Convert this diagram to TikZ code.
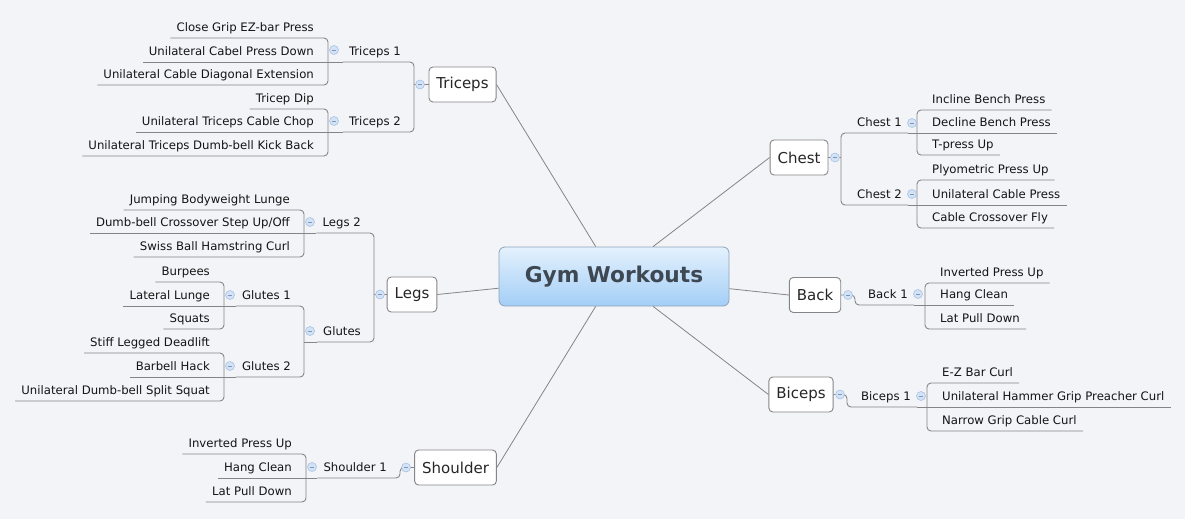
\documentclass[tikz,border=0pt]{standalone}
\usepackage{fontspec}
\setmainfont{DejaVu Sans}
\definecolor{bg}{HTML}{F3F4F8}
\definecolor{ln}{HTML}{858585}
\definecolor{tx}{HTML}{141414}
\definecolor{togf}{HTML}{D3E2F5}
\definecolor{togd}{HTML}{9FBCE2}
\definecolor{ctop}{HTML}{E4F1FD}
\definecolor{cbot}{HTML}{A3CEF6}
\definecolor{cbor}{HTML}{8EA3B8}
\definecolor{ctx}{HTML}{3D4852}
\begin{document}
\begin{tikzpicture}[x=1pt,y=-1pt,
  conn/.style={draw=ln, line width=0.9pt, rounded corners=4pt},
  spoke/.style={draw=ln, line width=0.8pt},
  leaf/.style={font=\fontsize{11.7}{14}\selectfont, text=tx, inner xsep=6pt, inner ysep=0pt, text height=9pt, text depth=6.5pt},
  lleaf/.style={leaf, anchor=south east},
  rleaf/.style={leaf, anchor=south west},
  maintopic/.style={draw=ln, line width=0.9pt, fill=white, rounded corners=4pt, font=\fontsize{15}{18}\selectfont, text=black!85, inner xsep=7.5pt, inner ysep=0pt, minimum height=35pt},
  tog/.style={circle, minimum size=9pt, inner sep=0pt, fill=togf, draw=togd, line width=0.5pt,
    path picture={\draw[togd!80!black, line width=0.7pt] ([xshift=-2.2pt]path picture bounding box.center) -- ([xshift=2.2pt]path picture bounding box.center);}},
]
\fill[bg] (0,0) rectangle (1185,519);
\useasboundingbox (0,0) rectangle (1185,519);

% central topic
\node[draw=cbor, line width=0.8pt, top color=ctop, bottom color=cbot, rounded corners=6pt,
      minimum width=230pt, minimum height=59pt, inner sep=0pt,
      font=\fontsize{21.7}{26}\selectfont\bfseries, text=ctx] (gym) at (614,276.5) {Gym Workouts};

% main topics
\node[maintopic] (tri) at (462.5,84.5) {Triceps};
\node[maintopic] (legs) at (412,294.5) {Legs};
\node[maintopic] (sho) at (455.5,467.5) {Shoulder};
\node[maintopic] (chest) at (799,157.5) {Chest};
\node[maintopic] (back) at (815,295) {Back};
\node[maintopic] (bic) at (801,394.5) {Biceps};

% subtopics (left)
\node[lleaf] (t1) at (407,62) {Triceps 1};
\node[lleaf] (t2) at (407,132) {Triceps 2};
\node[lleaf] (l2) at (367,233) {Legs 2};
\node[lleaf] (gl) at (367,342) {Glutes};
\node[lleaf] (g1) at (297,306) {Glutes 1};
\node[lleaf] (g2) at (297,377) {Glutes 2};
\node[lleaf] (s1) at (393,478) {Shoulder 1};
% subtopics (right)
\node[rleaf] (c1) at (851,133) {Chest 1};
\node[rleaf] (c2) at (851,205) {Chest 2};
\node[rleaf] (b1) at (862,305) {Back 1};
\node[rleaf] (i1) at (855,407) {Biceps 1};

% leaves (left)
\node[lleaf] (t1a) at (320,38) {Close Grip EZ-bar Press};
\node[lleaf] (t1b) at (320,62) {Unilateral Cabel Press Down};
\node[lleaf] (t1c) at (320,85) {Unilateral Cable Diagonal Extension};
\node[lleaf] (t2a) at (320,109) {Tricep Dip};
\node[lleaf] (t2b) at (320,132) {Unilateral Triceps Cable Chop};
\node[lleaf] (t2c) at (320,156) {Unilateral Triceps Dumb-bell Kick Back};
\node[lleaf] (l2a) at (296,210) {Jumping Bodyweight Lunge};
\node[lleaf] (l2b) at (296,233) {Dumb-bell Crossover Step Up/Off};
\node[lleaf] (l2c) at (296,257) {Swiss Ball Hamstring Curl};
\node[lleaf] (g1a) at (216,282) {Burpees};
\node[lleaf] (g1b) at (216,306) {Lateral Lunge};
\node[lleaf] (g1c) at (216,329) {Squats};
\node[lleaf] (g2a) at (216,353) {Stiff Legged Deadlift};
\node[lleaf] (g2b) at (216,377) {Barbell Hack};
\node[lleaf] (g2c) at (216,401) {Unilateral Dumb-bell Split Squat};
\node[lleaf] (s1a) at (298,454) {Inverted Press Up};
\node[lleaf] (s1b) at (298,478) {Hang Clean};
\node[lleaf] (s1c) at (298,502) {Lat Pull Down};
% leaves (right)
\node[rleaf] (c1a) at (926,110) {Incline Bench Press};
\node[rleaf] (c1b) at (926,133) {Decline Bench Press};
\node[rleaf] (c1c) at (926,155) {T-press Up};
\node[rleaf] (c2a) at (926,180) {Plyometric Press Up};
\node[rleaf] (c2b) at (926,205) {Unilateral Cable Press};
\node[rleaf] (c2c) at (926,228) {Cable Crossover Fly};
\node[rleaf] (b1a) at (934,283) {Inverted Press Up};
\node[rleaf] (b1b) at (934,305) {Hang Clean};
\node[rleaf] (b1c) at (934,329) {Lat Pull Down};
\node[rleaf] (i1a) at (936,383) {E-Z Bar Curl};
\node[rleaf] (i1b) at (936,407) {Unilateral Hammer Grip Preacher Curl};
\node[rleaf] (i1c) at (936,431) {Narrow Grip Cable Curl};

% spokes from the central topic
\draw[spoke] (gym) -- (tri.east);
\draw[spoke] (gym) -- (legs.east);
\draw[spoke] (gym) -- (sho.east);
\draw[spoke] (gym) -- (chest.west);
\draw[spoke] (gym) -- (back.west);
\draw[spoke] (gym) -- (bic.west);

% Triceps
\draw[conn] (tri.west) -- (414,84.5);
\draw[conn] (t1.south west) -| (414,84.5) |- (t2.south west);
\draw[conn] (t1a.south west) -| (328,62) |- (t1c.south west);
\draw[conn] (t1b.south west) -- (t1.south west);
\draw[conn] (t2a.south west) -| (328,132) |- (t2c.south west);
\draw[conn] (t2b.south west) -- (t2.south west);
% Legs
\draw[conn] (legs.west) -- (374,294.5);
\draw[conn] (l2.south west) -| (374,294.5) |- (gl.south west);
\draw[conn] (l2a.south west) -| (304,233) |- (l2c.south west);
\draw[conn] (l2b.south west) -- (l2.south west);
\draw[conn] (g1.south west) -| (304,342) |- (g2.south west);
\draw[conn] (gl.south west) -- (304,342);
\draw[conn] (g1a.south west) -| (224,306) |- (g1c.south west);
\draw[conn] (g1b.south west) -- (g1.south west);
\draw[conn] (g2a.south west) -| (224,377) |- (g2c.south west);
\draw[conn] (g2b.south west) -- (g2.south west);
% Shoulder
\draw[conn] (s1.south west) -| (400,467.5) -- (sho.west);
\draw[conn] (s1a.south west) -| (306,478) |- (s1c.south west);
\draw[conn] (s1b.south west) -- (s1.south west);
% Chest
\draw[conn] (chest.east) -- (841,157.5);
\draw[conn] (c1.south east) -| (841,157.5) |- (c2.south east);
\draw[conn] (c1a.south east) -| (917,133) |- (c1c.south east);
\draw[conn] (c1b.south east) -- (c1.south east);
\draw[conn] (c2a.south east) -| (917,205) |- (c2c.south east);
\draw[conn] (c2b.south east) -- (c2.south east);
% Back
\draw[conn] (b1.south east) -| (855,295) -- (back.east);
\draw[conn] (b1a.south east) -| (925,305) |- (b1c.south east);
\draw[conn] (b1b.south east) -- (b1.south east);
% Biceps
\draw[conn] (i1.south east) -| (847,394.5) -- (bic.east);
\draw[conn] (i1a.south east) -| (927,407) |- (i1c.south east);
\draw[conn] (i1b.south east) -- (i1.south east);

% collapse markers
\node[tog] (ktri) at (420,84.5) {};
\node[tog] (kt1) at (334,50) {};
\node[tog] (kt2) at (334,121) {};
\node[tog] (klegs) at (380,294.5) {};
\node[tog] (kl2) at (310,222) {};
\node[tog] (kgl) at (310,331) {};
\node[tog] (kg1) at (230,295) {};
\node[tog] (kg2) at (230,366) {};
\node[tog] (ksho) at (406,467.5) {};
\node[tog] (ks1) at (312,467) {};
\node[tog] (kchest) at (835,157.5) {};
\node[tog] (kc1) at (912,123) {};
\node[tog] (kc2) at (912,194) {};
\node[tog] (kback) at (848,295) {};
\node[tog] (kb1) at (918,294) {};
\node[tog] (kbic) at (840,394.5) {};
\node[tog] (ki1) at (921,396) {};
\end{tikzpicture}
\end{document}
